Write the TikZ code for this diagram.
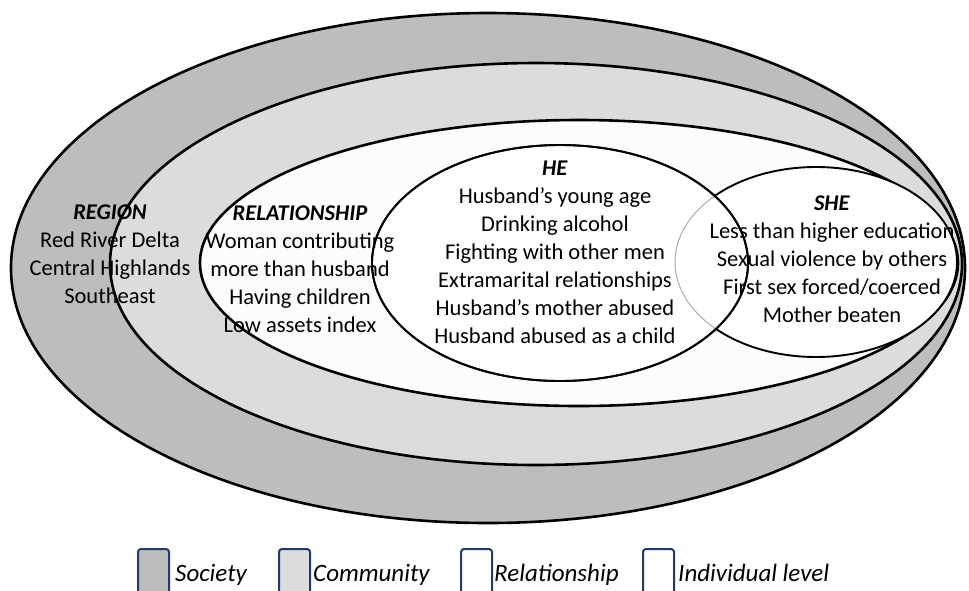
\documentclass[tikz,border=0pt]{standalone}
\usepackage{fontspec}
\setmainfont{Carlito}
\definecolor{socg}{HTML}{BDBDBD}
\definecolor{comg}{HTML}{DCDCDC}
\definecolor{relg}{HTML}{FCFCFC}
\definecolor{navy}{HTML}{1F3A6E}
\begin{document}
\begin{tikzpicture}[x=1pt,y=-1pt,
  ring/.style={draw=black, line width=2.6pt},
  indiv/.style={draw=black, line width=1.9pt},
  txt/.style={font=\fontsize{22.5}{28}\selectfont, align=center, inner sep=0pt},
  lbox/.style={draw=navy, line width=2pt, rounded corners=3pt, minimum width=31pt, minimum height=46pt, inner sep=0pt},
  leg/.style={font=\fontsize{25}{30}\selectfont\itshape, inner sep=0pt, anchor=base west}]
\useasboundingbox (0,0) rectangle (969,590);
% ellipses
\draw[ring, fill=socg] (488,268) ellipse [x radius=477, y radius=255];
\draw[ring, fill=comg] (536,264) ellipse [x radius=426, y radius=201];
\draw[ring, fill=relg] (579,263) ellipse [x radius=379, y radius=143];
\draw[indiv, fill=white] (816,262) ellipse [x radius=141, y radius=95];
\draw[indiv, fill=white] (560,263) ellipse [x radius=188, y radius=118];
\begin{scope}
  \clip (560,263) ellipse [x radius=187, y radius=117];
  \draw[gray!70, line width=0.9pt] (816,262) ellipse [x radius=141, y radius=95];
\end{scope}
\draw[indiv] (560,263) ellipse [x radius=188, y radius=118];
% texts
\node[txt] (region) at (110,254) {\textbf{\textit{REGION}}\\Red River Delta\\Central Highlands\\Southeast};
\node[txt] (rel) at (300,269) {\textbf{\textit{RELATIONSHIP}}\\Woman contributing\\more than husband\\Having children\\Low assets index};
\node[txt] (he) at (555,252) {\textbf{\textit{HE}}\\Husband’s young age\\Drinking alcohol\\Fighting with other men\\Extramarital relationships\\Husband’s mother abused\\Husband abused as a child};
\node[txt] (she) at (832,259) {\textbf{\textit{SHE}}\\Less than higher education\\Sexual violence by others\\First sex forced/coerced\\Mother beaten};
% legend
\node[lbox, fill=socg] (b1) at (153.5,572) {};
\node[lbox, fill=comg] (b2) at (294.5,572) {};
\node[lbox, fill=white] (b3) at (476.5,572) {};
\node[lbox, fill=white] (b4) at (658.5,572) {};
\node[leg] (l1) at (175,581) {Society};
\node[leg] (l2) at (313,581) {Community};
\node[leg] (l3) at (494,581) {Relationship};
\node[leg] (l4) at (678,581) {Individual level};
\end{tikzpicture}
\end{document}
